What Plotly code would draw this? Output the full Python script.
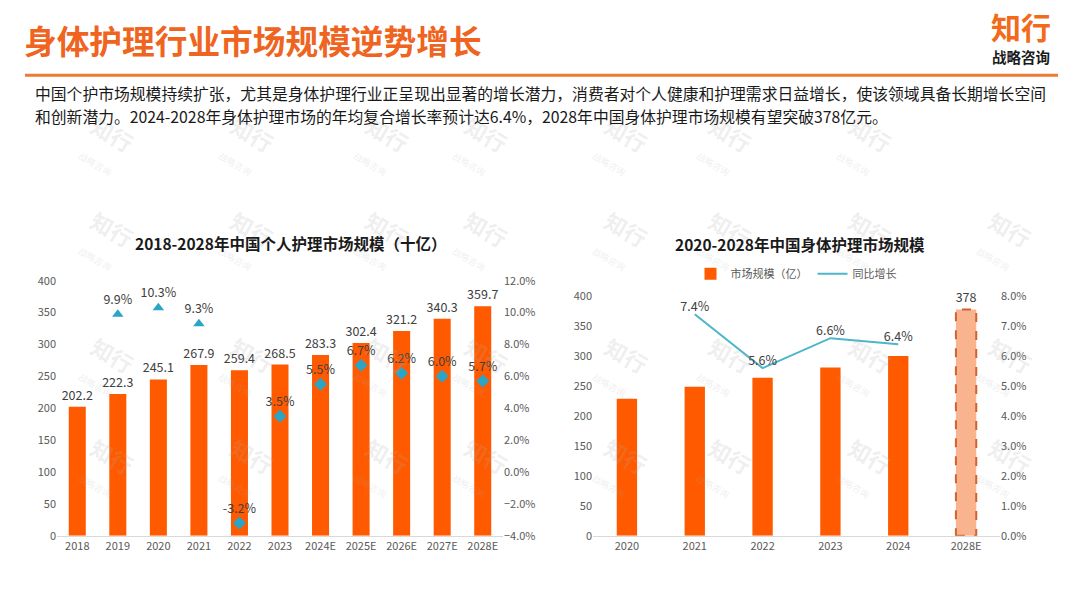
import plotly.graph_objects as go

# ---------------- data ----------------
left_years = ["2018", "2019", "2020", "2021", "2022", "2023", "2024E", "2025E", "2026E", "2027E", "2028E"]
left_size = [202.2, 222.3, 245.1, 267.9, 259.4, 268.5, 283.3, 302.4, 321.2, 340.3, 359.7]
left_growth = [None, 9.9, 10.3, 9.3, -3.2, 3.5, 5.5, 6.7, 6.2, 6.0, 5.7]

right_years = ["2020", "2021", "2022", "2023", "2024", "2028E"]
right_size = [229, 249, 264, 281, 300, 378]
right_growth = [None, 7.4, 5.6, 6.6, 6.4, None]

header_title = "身体护理行业市场规模逆势增长"
intro_lines = [
    "中国个护市场规模持续扩张，尤其是身体护理行业正呈现出显著的增长潜力，消费者对个人健康和护理需求日益增长，使该领域具备长期增长空间",
    "和创新潜力。2024-2028年身体护理市场的年均复合增长率预计达6.4%，2028年中国身体护理市场规模有望突破378亿元。",
]
left_title = "2018-2028年中国个人护理市场规模（十亿）"
right_title = "2020-2028年中国身体护理市场规模"

# ---------------- style ----------------
FONT = "Noto Sans CJK SC"
ORANGE = "#FF5A00"
TEAL = "#2AA5C5"
LINE_TEAL = "#4DB6C8"
W, H = 1080, 608


def px(x):
    return x / W


def py(y):
    return 1 - y / H


fig = go.Figure()

# ---- left chart ----
fig.add_trace(go.Bar(
    x=left_years, y=left_size, xaxis="x", yaxis="y",
    marker=dict(color=ORANGE, line=dict(width=0)), width=0.42,
    text=[f"{v:.1f}" for v in left_size], textposition="outside", constraintext="none",
    textfont=dict(size=12.5, color="#404040", family=FONT),
    cliponaxis=False, showlegend=False, hoverinfo="x+y",
))
symbols = ["triangle-up" if (g is not None and i <= 3) else "diamond" for i, g in enumerate(left_growth)]
fig.add_trace(go.Scatter(
    x=left_years, y=left_growth, xaxis="x", yaxis="y2",
    mode="markers+text",
    marker=dict(color=TEAL, size=10, symbol=symbols, line=dict(width=0)),
    text=[("" if g is None else f"{g:.1f}%") for g in left_growth],
    textposition="top center",
    textfont=dict(size=12.5, color="#404040", family=FONT),
    cliponaxis=False, showlegend=False,
))

# ---- right chart ----
fig.add_trace(go.Bar(
    x=right_years[:5], y=right_size[:5], xaxis="x3", yaxis="y3",
    marker=dict(color=ORANGE, line=dict(width=0)), width=0.3,
    name="市场规模（亿）", showlegend=True,
))
fig.add_trace(go.Bar(
    x=right_years[5:], y=right_size[5:], xaxis="x3", yaxis="y3",
    marker=dict(color="#F9B48F", line=dict(width=0)), width=0.3,
    text=[f"{v:g}" for v in right_size[5:]], textposition="outside", constraintext="none",
    textfont=dict(size=12.5, color="#404040", family=FONT),
    cliponaxis=False, showlegend=False,
))
fig.add_trace(go.Scatter(
    x=right_years, y=right_growth, xaxis="x3", yaxis="y4",
    mode="lines+text", line=dict(color=LINE_TEAL, width=2),
    text=[("" if g is None else f"{g:.1f}%") for g in right_growth],
    textposition="top center",
    textfont=dict(size=12.5, color="#404040", family=FONT),
    name="同比增长", cliponaxis=False, showlegend=True,
))

# dashed outline of forecast bar (from data)
fi = len(right_years) - 1
fig.add_shape(type="rect", xref="x3", yref="y3",
              x0=fi - 0.15, x1=fi + 0.15, y0=0, y1=right_size[fi],
              line=dict(color="#D2622A", width=2, dash="dash"), fillcolor="rgba(0,0,0,0)")

tickfont = dict(size=11, color="#595959", family=FONT)
axis_common = dict(showgrid=False, zeroline=False, tickfont=tickfont, ticks="")

fig.update_layout(
    width=W, height=H, margin=dict(l=0, r=0, t=0, b=0),
    paper_bgcolor="white", plot_bgcolor="white",
    font=dict(family=FONT, color="#333333"),
    barmode="overlay",
    xaxis=dict(domain=[px(57), px(503)], type="category", range=[-0.5, len(left_years) - 0.5],
               showline=True, linecolor="#D9D9D9", linewidth=1, **axis_common),
    yaxis=dict(domain=[py(541), py(279)], range=[0, 400], dtick=50, anchor="x", showline=False,
               **axis_common),
    yaxis2=dict(overlaying="y", side="right", anchor="x", range=[-4, 12], dtick=2,
                tickformat=".1f", ticksuffix="%", showline=False, **axis_common),
    xaxis3=dict(domain=[px(593), px(1000)], type="category", range=[-0.5, len(right_years) - 0.5],
                anchor="y3", showline=True, linecolor="#D9D9D9", linewidth=1, **axis_common),
    yaxis3=dict(domain=[py(541), py(295)], range=[0, 400], dtick=50, anchor="x3", showline=False,
                **axis_common),
    yaxis4=dict(overlaying="y3", side="right", anchor="x3", range=[0, 8], dtick=1,
                tickformat=".1f", ticksuffix="%", showline=False, **axis_common),
    legend=dict(orientation="h", x=px(796), y=py(272), xanchor="center", yanchor="middle",
                font=dict(size=11, color="#595959", family=FONT), bgcolor="rgba(0,0,0,0)",
                tracegroupgap=0),
)

annotations = []
# watermarks (decorative)
wm_positions = [(wx, 100) for wx in [70, 210, 345, 480, 620, 760, 900]]
wm_positions += [(wx, wy) for wy in [237, 367, 510] for wx in [70, 210, 345, 480, 620, 760, 900, 1040]]
for wx, wy in wm_positions:
    annotations.append(dict(
        xref="paper", yref="paper", x=px(wx), y=py(wy), showarrow=False,
        text="<b>知行</b><br><span style='font-size:9px'>战略咨询</span>",
        font=dict(size=22, color="rgba(170,170,170,0.2)", family=FONT),
        textangle=30, align="center"))

# header
annotations.append(dict(xref="paper", yref="paper", x=px(22), y=py(31), xanchor="left", yanchor="middle",
                        showarrow=False, text=f"<b>{header_title}</b>",
                        font=dict(size=32.7, color="#EE6420", family=FONT)))
annotations.append(dict(
    xref="paper", yref="paper", x=px(1021), y=py(27), xanchor="center", yanchor="middle",
    showarrow=False, align="center",
    text=("<span style='font-size:30px;color:#F26A1B'><b>知行</b></span><br>"
          "<span style='font-size:14.5px;color:#1A1A1A'><b>战略咨询</b></span>"),
    font=dict(size=18.5, color="#1A1A1A", family=FONT)))
annotations.append(dict(xref="paper", yref="paper", x=px(33), y=py(99), xanchor="left",
                        yanchor="middle", showarrow=False, align="left",
                        text="<br>".join(f"<span style='font-size:15.8px'>{ln}</span>" for ln in intro_lines),
                        font=dict(size=17.5, color="#1A1A1A", family=FONT)))
# chart titles
annotations.append(dict(xref="paper", yref="paper", x=px(290), y=py(240), xanchor="center", yanchor="middle",
                        showarrow=False, text=f"<b>{left_title}</b>",
                        font=dict(size=15.5, color="#1A1A1A", family=FONT)))
annotations.append(dict(xref="paper", yref="paper", x=px(800), y=py(241), xanchor="center", yanchor="middle",
                        showarrow=False, text=f"<b>{right_title}</b>",
                        font=dict(size=15.5, color="#1A1A1A", family=FONT)))
fig.update_layout(annotations=annotations)

fig.add_shape(type="line", xref="paper", yref="paper", x0=px(25), x1=px(1058), y0=py(68), y1=py(68),
              line=dict(color="#EE7A35", width=3))

fig.write_html("out.html", config={"displayModeBar": False},
               post_script="document.body.style.margin='0';document.body.style.overflow='hidden';")
